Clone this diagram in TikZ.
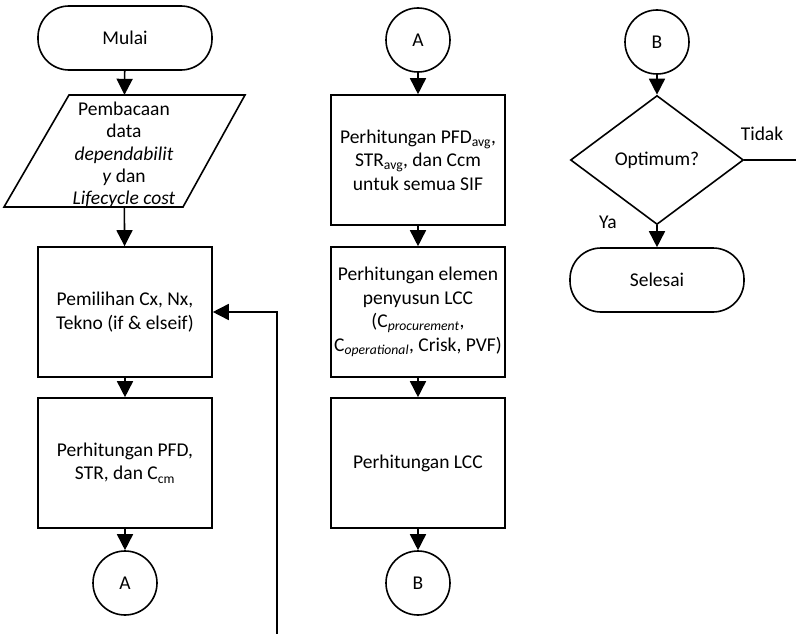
\documentclass[tikz,border=0pt]{standalone}
\usepackage{fontspec}
\setmainfont{Carlito}
\usetikzlibrary{arrows.meta,shapes.geometric}
\tikzset{
  every node/.style={font=\fontsize{19.5}{23.5}\selectfont, align=center},
  line/.style={line width=1.6pt},
  arr/.style={line width=1.6pt, -{Triangle[width=16pt,length=16pt]}},
  term/.style={draw, line width=1.6pt, minimum width=174pt, minimum height=64pt, rounded corners=31pt, inner sep=0pt},
  procbox/.style={draw, line width=1.6pt, minimum width=174pt, minimum height=130pt, inner sep=0pt},
  conn/.style={draw, circle, line width=1.6pt, minimum size=64pt, inner sep=0pt},
  decision/.style={draw, diamond, line width=1.6pt, minimum width=173pt, minimum height=129pt, inner sep=0pt},
  lbl/.style={font=\fontsize{19.5}{23.5}\selectfont}
}
\begin{document}
\begin{tikzpicture}[x=1pt,y=-1pt]
\useasboundingbox (0,0) rectangle (796,634);
% column 1
\node[term] (mulai) at (125,38) {Mulai};
\node[minimum width=174pt, minimum height=112pt, inner sep=0pt,
  label={[yshift=-4pt, font=\fontsize{19.5}{22.3}\selectfont, align=center]center:Pembacaan\\ data\\ \textit{dependabilit}\\ \textit{y} dan\\ \textit{Lifecycle cost}}] (data) at (124,151) {};
\draw[line] (69,95) -- (245,95) -- (183,207) -- (4,207) -- cycle;
\node[procbox] (pilih) at (125,312) {Pemilihan Cx, Nx,\\ Tekno (if \& elseif)};
\node[procbox] (pfd) at (125,463) {Perhitungan PFD,\\ STR, dan C\textsubscript{cm}};
\node[conn] (a1) at (125,583) {A};
\draw[arr] (mulai) -- (data);
\draw[arr] (data) -- (pilih);
\draw[arr] (pilih) -- (pfd);
\draw[arr] (pfd) -- (a1);
\coordinate (fb) at (277,634);
\draw[arr] (fb) |- (pilih.east);
% column 2
\node[conn] (a2) at (418,40) {A};
\node[procbox] (avg) at (418,160) {Perhitungan PFD\textsubscript{avg},\\ STR\textsubscript{avg}, dan Ccm\\ untuk semua SIF};
\node[procbox] (elem) at (418,312) {Perhitungan elemen\\ penyusun LCC\\ (C\textsubscript{\textit{procurement}},\\ C\textsubscript{\textit{operational}}, Crisk, PVF)};
\node[procbox] (lcc) at (418,463) {Perhitungan LCC};
\node[conn] (b1) at (418,583) {B};
\draw[arr] (a2) -- (avg);
\draw[arr] (avg) -- (elem);
\draw[arr] (elem) -- (lcc);
\draw[arr] (lcc) -- (b1);
% column 3
\node[conn] (b2) at (657,42) {B};
\node[decision] (opt) at (657,160) {Optimum?};
\node[term] (selesai) at (657,280) {Selesai};
\draw[arr] (b2) -- (opt);
\draw[arr] (opt) -- (selesai);
\coordinate (tidakend) at (796,160);
\draw[line] (opt.east) -- (tidakend);
\node[lbl] (tidak) at (762,134) {Tidak};
\node[lbl] (ya) at (608,222) {Ya};
\end{tikzpicture}
\end{document}
